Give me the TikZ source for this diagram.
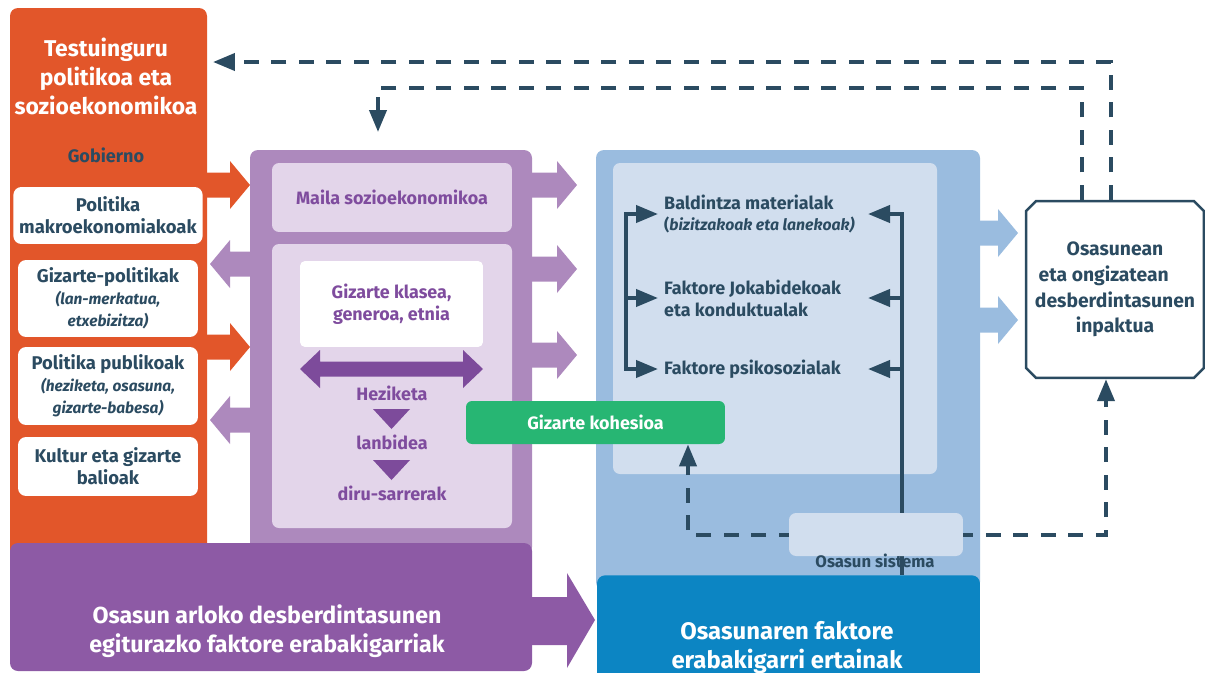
\documentclass[tikz,border=0pt]{standalone}
\usepackage{fontspec}
\setmainfont{Fira Sans}
\usetikzlibrary{arrows.meta,shapes.misc,calc}
\tikzset{>={Triangle[length=0.44cm,width=0.34cm]}}

\definecolor{orng}{HTML}{E2562A}
\definecolor{dkb}{HTML}{2B4B61}
\definecolor{lpur}{HTML}{AD89BD}
\definecolor{ppur}{HTML}{E3D5EA}
\definecolor{tpur}{HTML}{7F4C9E}
\definecolor{apur}{HTML}{7D4B9B}
\definecolor{bpur}{HTML}{8D5AA5}
\definecolor{grn}{HTML}{27B673}
\definecolor{lblu}{HTML}{9ABCDF}
\definecolor{pblu}{HTML}{D1DEEE}
\definecolor{dblu}{HTML}{0C85C3}

\newcommand{\subt}{\itshape\fontsize{8.8}{10.5}\selectfont}
% block arrow: colour, tail x, tip x, y
\newcommand{\barr}[4]{%
  \pgfmathsetmacro{\hb}{#3-20*sign(#3-#2)}
  \fill[#1] (#2,#4-12.5) -- (\hb,#4-12.5) -- (\hb,#4-24) -- (#3,#4)
    -- (\hb,#4+24) -- (\hb,#4+12.5) -- (#2,#4+12.5) -- cycle;}

\begin{document}
\begin{tikzpicture}[x=0.02cm,y=-0.02cm,
    every node/.style={font=\bfseries},
    wbox/.style={fill=white,rounded corners=0.16cm,minimum width=3.6cm,align=center,
      text=dkb,font=\bfseries\fontsize{10.5}{12.5}\selectfont},
    pbox/.style={fill=ppur,rounded corners=0.14cm,text=tpur,align=center,
      font=\bfseries\fontsize{10.2}{12.5}\selectfont},
    ptxt/.style={text=tpur,font=\bfseries\fontsize{10.2}{12.5}\selectfont},
    ftxt/.style={text=dkb,align=left,anchor=west,font=\bfseries\fontsize{10.2}{12.5}\selectfont},
    dline/.style={draw=dkb,line width=0.08cm},
    dasharr/.style={dline,dash pattern=on 0.3cm off 0.25cm,->},
    bigtxt/.style={text=white,align=center,font=\bfseries\fontsize{13.2}{16.5}\selectfont}]
  \useasboundingbox (0,0) rectangle (1205,673);

  % context column
  \fill[orng,rounded corners=0.16cm] (10,8) rectangle (207,560);
  \barr{orng}{200}{250}{185}
  \barr{orng}{200}{250}{347}
  \node[bigtxt,font=\bfseries\fontsize{13}{16.5}\selectfont] (tit) at (106,76)
    {Testuinguru\\politikoa eta\\sozioekonomikoa};
  \node[text=dkb,font=\bfseries\fontsize{10.3}{11}\selectfont] (gob) at (106,155) {Gobierno};
  \node[wbox,minimum height=1.14cm] (mak) at (108,215.5) {Politika\\makroekonomiakoak};
  \node[wbox,minimum height=1.54cm] (gpo) at (108,298.5)
    {Gizarte-politikak\\{\subt (lan-merkatua,}\\{\subt etxebizitza)}};
  \node[wbox,minimum height=1.56cm] (ppu) at (108,386)
    {Politika publikoak\\{\subt (heziketa, osasuna,}\\{\subt gizarte-babesa)}};
  \node[wbox,minimum height=1.18cm] (kul) at (108,466.5) {Kultur eta gizarte\\balioak};

  % socioeconomic position
  \fill[lpur,rounded corners=0.16cm] (250,150) rectangle (532,555);
  \barr{lpur}{260}{210}{264}
  \barr{lpur}{260}{210}{420}
  \barr{lpur}{525}{577}{185}
  \barr{lpur}{525}{577}{269}
  \barr{lpur}{525}{577}{355}
  \node[pbox,minimum width=4.8cm,minimum height=1.38cm] (mai) at (392,197.5) {Maila sozioekonomikoa};
  \fill[ppur,rounded corners=0.14cm] (272,244) rectangle (512,528);
  \node[pbox,fill=white,rounded corners=0.1cm,minimum width=3.66cm,minimum height=1.72cm]
    (gkl) at (391.5,304) {Gizarte klasea,\\generoa, etnia};
  \fill[apur] (300,369) -- (320,350) -- (320,361.5) -- (463,361.5) -- (463,350) -- (483,369)
    -- (463,388) -- (463,376.5) -- (320,376.5) -- (320,388) -- cycle;
  \node[ptxt] (hez) at (392,393) {Heziketa};
  \fill[apur] (373,409) -- (410,409) -- (391.5,429) -- cycle;
  \node[ptxt] (lan) at (392,442) {lanbidea};
  \fill[apur] (373,460) -- (410,460) -- (391.5,480) -- cycle;
  \node[ptxt] (dir) at (392,493) {diru-sarrerak};

  % intermediary determinants
  \fill[lblu,rounded corners=0.16cm] (596,150) rectangle (980,590);
  \barr{lblu}{975}{1018}{233}
  \barr{lblu}{975}{1018}{320}
  \fill[pblu,rounded corners=0.14cm] (613,163) rectangle (937,474);
  \node[fill=grn,text=white,rounded corners=0.12cm,minimum width=5.18cm,minimum height=0.86cm,
    font=\bfseries\fontsize{10.2}{12}\selectfont] (coh) at (595.5,422.5) {Gizarte kohesioa};
  \node[fill=dblu,rounded corners=0.16cm,minimum width=7.66cm,minimum height=2.4cm,anchor=north]
    (ert) at (788.5,575) {};
  \node[bigtxt,font=\bfseries\fontsize{13.6}{16.5}\selectfont] (ertt) at (787,648)
    {Osasunaren faktore\\erabakigarri ertainak};

  \node[ftxt] (bal) at (658,214)
    {Baldintza materialak\\{\fontsize{9}{11}\selectfont(\itshape bizitzakoak eta lanekoak)}};
  \node[ftxt] (jok) at (658,298) {Faktore Jokabidekoak\\eta konduktualak};
  \node[ftxt] (psi) at (658,369) {Faktore psikosozialak};
  \coordinate (lb) at (626,0);
  \coordinate (rb) at (902,0);
  \coordinate (rt) at (868,0);
  \draw[dline,<->] (bal.west) -- (bal.west -| lb) -- (psi.west -| lb) -- (psi.west);
  \draw[dline,->] (jok.west -| lb) -- (jok.west);
  \draw[dline,<-] (bal.west -| rt) -- (bal.west -| rb) -- (rb |- ert.north);
  \foreach \n in {jok,psi}
    \draw[dline,->] (\n.west -| rb) -- (\n.west -| rt);

  % structural determinants
  \fill[bpur,rounded corners=0.16cm] (10,543) rectangle (532,671);
  \fill[bpur] (520,597) -- (567,597) -- (567,573) -- (595,620) -- (567,668) -- (567,645)
    -- (520,645) -- cycle;
  \node[bigtxt] (egi) at (267,631.5) {Osasun arloko desberdintasunen\\egiturazko faktore erabakigarriak};

  % impact
  \node[draw=dkb,line width=0.05cm,fill=white,chamfered rectangle,chamfered rectangle xsep=0.08cm,
    inner xsep=0pt,minimum width=3.56cm,minimum height=3.54cm,align=center,text=dkb,
    font=\bfseries\fontsize{11}{14.6}\selectfont] (imp) at (1115,289.5)
    {Osasunean\\eta ongizatean\rule{0.45cm}{0pt}\\desberdintasunen\\inpaktua};

  % feedback
  \coordinate (d1) at (1111,62);
  \coordinate (tip1) at (213,62);
  \coordinate (d2) at (1082,88);
  \coordinate (tip2) at (378,132);
  \coordinate (d4) at (688,0);
  \coordinate (d5) at (1106,0);
  \draw[dasharr] (imp.north -| d1) -- (d1) -- (tip1);
  \draw[dasharr] (imp.north -| d2) -- (d2) -- (d2 -| tip2) -- (tip2);
  \draw[dasharr] (876,534.5) -- (d4 |- 0,534.5) -- (coh.south -| d4);
  \draw[dasharr] (876,534.5) -- (d5 |- 0,534.5) -- (imp.south -| d5);

  \node[fill=pblu,rounded corners=0.14cm,minimum width=3.48cm,minimum height=0.86cm] (sys) at (876,534.5) {};
  \node[text=dkb,font=\bfseries\fontsize{9.5}{11}\selectfont] (sysl) at (875,561) {Osasun sistema};
\end{tikzpicture}
\end{document}
